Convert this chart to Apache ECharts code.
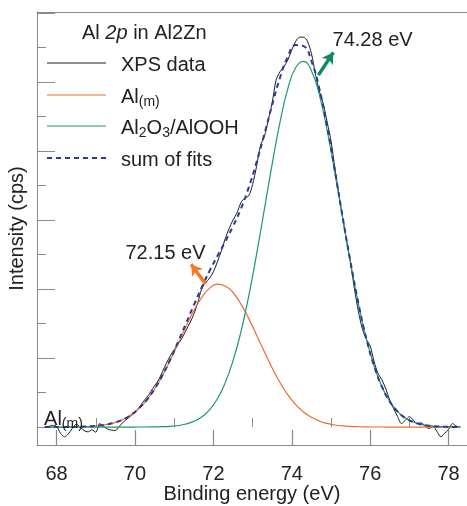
<!DOCTYPE html>
<html>
<head>
<meta charset="utf-8">
<title>Al 2p in Al2Zn</title>
<script src="https://cdn.jsdelivr.net/npm/echarts@6/dist/echarts.min.js"></script>
<style>html,body{margin:0;padding:0;background:#fff}</style>
</head>
<body>
<div id="container" style="width:467px;height:506px"></div>
<script>
// measured spectrum, 0.1 eV steps starting at 67.7 eV
var xpsStart = 67.7, xpsStep = 0.1;
var xpsData = [
  0.0, 0.02, 0.05, 0.02, -0.18, -0.28, -0.2, -0.04, 0.08, 0.0,
  -0.1, -0.14, -0.08, -0.15, 0.1, 0.02, -0.06, -0.09, -0.1, 0.02,
  0.14, 0.24, 0.33, 0.44, 0.56, 0.72, 0.86, 1.02, 1.2, 1.36,
  1.6, 1.85, 2.06, 2.24, 2.41, 2.58, 2.8, 3.02, 3.27, 3.6,
  4.0, 4.18, 4.31, 4.5, 4.78, 5.1, 5.45, 5.75, 6.0, 6.2,
  6.5, 6.64, 6.7, 7.03, 7.55, 8.15, 8.42, 8.9, 9.4, 10.06,
  10.3, 10.45, 10.64, 10.93, 11.18, 11.3, 11.3, 11.18, 10.83, 10.25,
  9.75, 9.38, 8.85, 8.3, 7.5, 6.75, 6.05, 5.4, 4.75, 4.0,
  3.35, 2.85, 2.55, 2.35, 1.9, 1.55, 1.37, 1.1, 0.78, 0.53,
  0.3, 0.1, 0.2, 0.3, 0.2, 0.1, 0.12, 0.03, -0.04, 0.01,
  -0.12, -0.28, -0.18, -0.07, 0.1, 0.03, 0.0
];

// fitted components, 0.2 eV steps starting at 67.7 eV
var fitStart = 67.7, fitStep = 0.2;
var metalFit = [
  0, 0, 0.001, 0.003, 0.006, 0.013, 0.024, 0.045, 0.08, 0.136,
  0.223, 0.354, 0.538, 0.783, 1.10, 1.49, 1.94, 2.42, 2.91, 3.37,
  3.75, 4.02, 4.14, 4.09, 3.90, 3.57, 3.15, 2.67, 2.18, 1.71,
  1.29, 0.933, 0.651, 0.437, 0.282, 0.175, 0.105, 0.060, 0.033, 0.018,
  0.009, 0.004, 0.002, 0.001, 0, 0, 0, 0, 0, 0,
  0, 0, 0, 0
];
var oxideFit = [
  0, 0, 0, 0, 0, 0, 0, 0, 0, 0,
  0, 0, 0.001, 0.002, 0.005, 0.010, 0.022, 0.045, 0.088, 0.164,
  0.291, 0.498, 0.814, 1.28, 1.92, 2.75, 3.79, 5.00, 6.31, 7.63,
  8.84, 9.81, 10.42, 10.60, 10.33, 9.64, 8.61, 7.37, 6.04, 4.75,
  3.57, 2.57, 1.77, 1.17, 0.741, 0.449, 0.261, 0.145, 0.077, 0.039,
  0.019, 0.009, 0.004, 0.002
];
var sumFit = [
  0, 0, 0.001, 0.003, 0.006, 0.013, 0.024, 0.045, 0.08, 0.136,
  0.223, 0.354, 0.539, 0.785, 1.105, 1.50, 1.96, 2.47, 3.00, 3.53,
  4.04, 4.52, 4.95, 5.37, 5.82, 6.32, 6.94, 7.67, 8.49, 9.34,
  10.13, 10.74, 11.07, 11.04, 10.61, 9.82, 8.72, 7.43, 6.07, 4.77,
  3.58, 2.57, 1.77, 1.17, 0.741, 0.449, 0.261, 0.145, 0.077, 0.039,
  0.019, 0.009, 0.004, 0.002
];

var xTicks = [68, 70, 72, 74, 76, 78];
var xMinorTicks = [69, 71, 73, 75, 77];
var yTicks = [0, 2, 4, 6, 8, 10, 12];
var yMinorTicks = [1, 3, 5, 7, 9, 11];

var FONT = '"Liberation Sans", Arial, Helvetica, sans-serif';
var AXIS_COLOR = '#8a8a8a';
var TEXT_COLOR = '#222';

var seriesStyles = [
  {name: 'XPS data', label: '{n|XPS data}', color: '#1e1e1e', width: 1, dash: null},
  {name: 'Al(m)', label: '{n|Al}{m|(m)}', color: '#f26a2e', width: 1.2, dash: null},
  {name: 'Al2O3/AlOOH', label: '{n|Al}{s|2}{n|O}{s|3}{n|/AlOOH}', color: '#1a9a6c', width: 1.2, dash: null},
  {name: 'sum of fits', label: '{n|sum of fits}', color: '#2b3a9a', width: 2, dash: [5, 4]}
];

function toPairs(start, step, ys) {
  return ys.map(function (y, i) {
    return [+(start + i * step).toFixed(2), y];
  });
}

// rich styles shared by the key and the Al(m) note: main text, small (m), subscript
var richText = {
  n: {fontSize: 20, fontFamily: FONT, color: TEXT_COLOR, lineHeight: 24},
  m: {fontSize: 14, fontFamily: FONT, color: TEXT_COLOR, verticalAlign: 'bottom', lineHeight: 20},
  s: {fontSize: 14, fontFamily: FONT, color: TEXT_COLOR, verticalAlign: 'bottom', lineHeight: 12}
};

// key drawn by hand so the rows keep an even spacing
var keyRows = [63, 95, 126, 158];
var keyGraphics = [];
seriesStyles.forEach(function (s, i) {
  keyGraphics.push({
    type: 'line', silent: true,
    shape: {x1: 47, y1: keyRows[i], x2: 106, y2: keyRows[i]},
    style: {stroke: s.color, lineWidth: s.width, lineDash: s.dash}
  });
  keyGraphics.push({
    type: 'text', silent: true, x: 121, y: keyRows[i] + 2,
    style: {text: s.label, rich: richText, align: 'left', verticalAlign: 'middle',
      fontSize: 20, fontFamily: FONT, fill: TEXT_COLOR}
  });
});

var dom = document.getElementById('container');
var myChart = echarts.init(dom, null, {renderer: 'canvas'});

var xBase = {
  type: 'value', min: 67.5, max: 78.47,
  splitLine: {show: false}
};
var yBase = {
  type: 'value', min: -0.52, max: 12.03,
  splitLine: {show: false}
};

var option = {
  animation: false,
  backgroundColor: '#fff',
  grid: {left: 37, right: 0, top: 12, bottom: 61, outerBoundsMode: 'none', containLabel: false},
  title: {
    text: '{a|Al }{i|2p}{a| in Al2Zn}',
    left: 82, top: 23, padding: 0,
    textStyle: {
      fontWeight: 'normal',
      rich: {
        a: {fontSize: 20, fontFamily: FONT, color: TEXT_COLOR, fontWeight: 'normal'},
        i: {fontSize: 20, fontFamily: FONT, color: TEXT_COLOR, fontWeight: 'normal', fontStyle: 'italic'}
      }
    }
  },
  graphic: keyGraphics,
  xAxis: [
    echarts.util.merge({
      position: 'bottom',
      name: 'Binding energy (eV)', nameLocation: 'middle', nameGap: 39, nameMoveOverlap: false,
      nameTextStyle: {fontSize: 20, fontFamily: FONT, color: TEXT_COLOR},
      axisLine: {onZero: false, lineStyle: {color: AXIS_COLOR, width: 1}},
      axisTick: {inside: true, length: 15, customValues: xTicks, lineStyle: {color: AXIS_COLOR, width: 1.2}},
      axisLabel: {customValues: xTicks, margin: 19, fontSize: 20, fontFamily: FONT, color: TEXT_COLOR}
    }, xBase),
    echarts.util.merge({
      position: 'bottom',
      axisLine: {show: false},
      axisTick: {inside: true, length: 9, customValues: xMinorTicks, lineStyle: {color: AXIS_COLOR, width: 1}},
      axisLabel: {show: false}
    }, xBase),
    echarts.util.merge({
      position: 'top',
      axisLine: {onZero: false, lineStyle: {color: AXIS_COLOR, width: 1}},
      axisTick: {show: false},
      axisLabel: {show: false}
    }, xBase)
  ],
  yAxis: [
    echarts.util.merge({
      position: 'left',
      name: 'Intensity (cps)', nameLocation: 'middle', nameGap: 10, nameMoveOverlap: false,
      nameTextStyle: {fontSize: 20, fontFamily: FONT, color: TEXT_COLOR},
      axisLine: {onZero: false, lineStyle: {color: AXIS_COLOR, width: 1}},
      axisTick: {inside: true, length: 18, customValues: yTicks, lineStyle: {color: AXIS_COLOR, width: 1}},
      axisLabel: {show: false}
    }, yBase),
    echarts.util.merge({
      position: 'left',
      axisLine: {show: false},
      axisTick: {inside: true, length: 9, customValues: yMinorTicks, lineStyle: {color: AXIS_COLOR, width: 1}},
      axisLabel: {show: false}
    }, yBase)
  ],
  series: [
    {
      name: 'XPS data', type: 'line', symbol: 'none', smooth: 0.3,
      data: toPairs(xpsStart, xpsStep, xpsData),
      lineStyle: {color: seriesStyles[0].color, width: 1},
      markPoint: {
        silent: true, symbol: 'circle', symbolSize: 0,
        data: [{
          coord: [67.68, 0.22],
          label: {
            show: true, position: 'right', distance: 0,
            formatter: '{n|Al}{m|(m)}',
            rich: richText
          }
        }]
      }
    },
    {
      name: 'Al(m)', type: 'line', symbol: 'none', smooth: true,
      data: toPairs(fitStart, fitStep, metalFit),
      lineStyle: {color: seriesStyles[1].color, width: 1.2},
      markLine: {
        silent: true, symbol: ['none', 'arrow'], symbolSize: [10, 11],
        lineStyle: {color: '#f47a25', width: 3.5, type: 'solid'},
        label: {show: false},
        data: [[{coord: [71.8, 4.15]}, {coord: [71.43, 4.72]}]]
      },
      markPoint: {
        silent: true, symbol: 'circle', symbolSize: 0,
        data: [{
          coord: [71.8, 5.02],
          label: {show: true, position: 'left', distance: 0, formatter: '72.15 eV',
            fontSize: 20, fontFamily: FONT, color: TEXT_COLOR}
        }]
      }
    },
    {
      name: 'Al2O3/AlOOH', type: 'line', symbol: 'none', smooth: true,
      data: toPairs(fitStart, fitStep, oxideFit),
      lineStyle: {color: seriesStyles[2].color, width: 1.2},
      markLine: {
        silent: true, symbol: ['none', 'arrow'], symbolSize: [10, 11],
        lineStyle: {color: '#0e8c5c', width: 3.5, type: 'solid'},
        label: {show: false},
        data: [[{coord: [74.68, 10.2]}, {coord: [75.06, 10.86]}]]
      },
      markPoint: {
        silent: true, symbol: 'circle', symbolSize: 0,
        data: [{
          coord: [75.04, 11.2],
          label: {show: true, position: 'right', distance: 0, formatter: '74.28 eV',
            fontSize: 20, fontFamily: FONT, color: TEXT_COLOR}
        }]
      }
    },
    {
      name: 'sum of fits', type: 'line', symbol: 'none', smooth: true,
      data: toPairs(fitStart, fitStep, sumFit),
      lineStyle: {color: seriesStyles[3].color, width: 2, type: [5, 4]}
    }
  ]
};

if (option && typeof option === 'object') {
  myChart.setOption(option, true);
}
</script>
</body>
</html>
